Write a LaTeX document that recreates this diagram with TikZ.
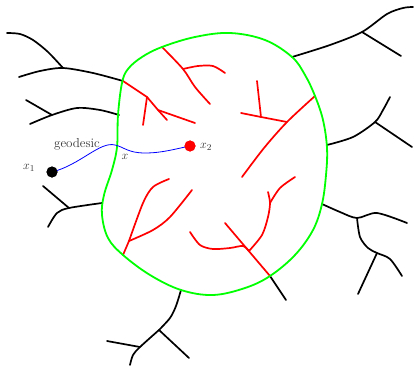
\documentclass[tikz,border=0pt]{standalone}
\begin{document}
\begin{tikzpicture}[x=1pt,y=-1pt,
  tree/.style={line width=1.7pt,line cap=round,line join=round},
  blk/.style={tree,black},
  rd/.style={tree,color={rgb,255:red,255;green,0;blue,0}},
  gr/.style={line width=1.8pt,color={rgb,255:red,0;green,255;blue,0}},
  geo/.style={line width=0.8pt,color={rgb,255:red,0;green,0;blue,255}},
  dot/.style={circle,inner sep=0pt,minimum size=11pt},
  lbl/.style={inner sep=0pt,text=black!80,font=\fontsize{13}{15}\selectfont}]
\useasboundingbox (0,0) rectangle (414,366);
% outside trees (black)
\draw[blk] plot[smooth] coordinates {(7,33) (20,34) (33,40) (48,52) (63,68)};
\draw[blk] plot[smooth] coordinates {(19,77) (40,71) (63,68) (93,73) (123,81)};
\draw[blk] (26,100) -- (52,115);
\draw[blk] plot[smooth] coordinates {(30,124) (52,115) (77,108) (100,110) (119,115)};
\draw[blk] (43,186) -- (69,208);
\draw[blk] plot[smooth] coordinates {(48,227) (57,213) (69,208) (102,203)};
\draw[blk] plot[smooth] coordinates {(292,57) (330,45) (362,32) (387,14) (403,8) (413,7)};
\draw[blk] (362,32) -- (401,56);
\draw[blk] plot[smooth] coordinates {(327,145) (353,137) (375,122) (383,110) (390,97)};
\draw[blk] (375,122) -- (412,147);
\draw[blk] plot[smooth] coordinates {(322,204) (340,212) (357,218) (377,213) (407,223)};
\draw[blk] plot[smooth] coordinates {(357,218) (360,237) (368,248) (377,253) (390,259) (402,276)};
\draw[blk] (377,253) -- (358,294);
\draw[blk] plot[smooth] coordinates {(181,290) (176,306) (170,318) (159,330)};
\draw[blk] (159,330) -- (189,358);
\draw[blk] plot[smooth] coordinates {(159,330) (140,347) (133,355) (130,365)};
\draw[blk] (107,341) -- (140,347);
\draw[blk] (270,276) -- (286,300);
% inside trees (red)
\draw[rd] (123,81) -- (147,97) -- (158,110) -- (195,123);
\draw[rd] (147,97) -- (143,125);
\draw[rd] (158,110) -- (167,120);
\draw[rd] plot[smooth] coordinates {(162,47) (183,69) (195,87) (210,104)};
\draw[rd] plot[smooth] coordinates {(183,69) (198,66) (213,66) (225,73)};
\draw[rd] (257,81) -- (261,117);
\draw[rd] (241,113) -- (261,117) -- (287,122);
\draw[rd] plot[smooth] coordinates {(315,96) (287,122) (264,148) (242,177)};
\draw[rd] (123,255) -- (129,241);
\draw[rd] plot[smooth] coordinates {(129,241) (143,203) (153,187) (169,179)};
\draw[rd] plot[smooth] coordinates {(129,241) (153,230) (170,217) (192,190)};
\draw[rd] plot[smooth] coordinates {(190,232) (200,245) (213,249) (230,248) (243,246) (249,251)};
\draw[rd] plot[smooth] coordinates {(249,251) (262,235) (268,217) (270,203) (268,192)};
\draw[rd] plot[smooth] coordinates {(270,203) (280,188) (295,177)};
\draw[rd] (225,223) -- (270,276);
% boundary (green)
\draw[gr] plot[smooth cycle,tension=0.6] coordinates {
  (122,83) (128,69) (142,57) (162,47) (195,37) (230,33) (265,40) (292,57)
  (305,75) (315,96) (323,120) (327,148) (326,175) (322,204) (313,230)
  (295,255) (270,276) (245,288) (213,295) (181,290) (150,275) (123,255)
  (108,238) (102,215) (104,195) (112,170) (117,147) (118,115)};
% points and geodesic
\node[dot,fill=black] (x1) at (52,172) {};
\node[dot,fill={rgb,255:red,255;green,0;blue,0}] (x2) at (190,146) {};
\draw[geo] (x1.center) .. controls (80,165) and (100,141) .. (115,145)
  .. controls (124,147) and (128,153) .. (145,153)
  .. controls (162,153) and (175,149) .. (x2.center);
\node[dot,fill=black] at (x1) {};
\node[dot,fill={rgb,255:red,255;green,0;blue,0}] at (x2) {};
\node[lbl] (lgeo) at (77,144) {geodesic};
\node[lbl] (lx1) at (29,168) {$x_1$};
\node[lbl] (lx) at (125,157) {$x$};
\node[lbl] (lx2) at (206,147) {$x_2$};
\end{tikzpicture}
\end{document}
